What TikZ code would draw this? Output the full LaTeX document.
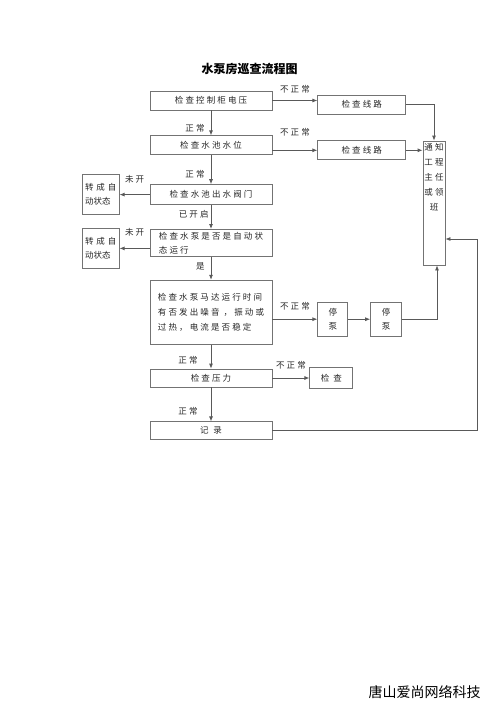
\documentclass[tikz,border=0pt]{standalone}
\usepackage{fontspec}
\setmainfont{Noto Sans CJK SC}
\newfontfamily\cjkw{Noto Sans CJK SC}[LetterSpace=25]
\usetikzlibrary{arrows.meta, positioning}

\begin{document}
\begin{tikzpicture}[
    x=1pt, y=1pt,
    every node/.style = {font=\cjkw\fontsize{8.5}{14}\selectfont, text=black!85},
    box/.style     = {rectangle, draw=black!55, line width=0.8pt,
                      inner sep=2pt, align=center},
    mainbox/.style = {box, minimum width=122pt},
    sidebox/.style = {box, minimum width=88pt, minimum height=19pt},
    autobox/.style = {box, align=left, minimum width=37pt, minimum height=40pt,
                      inner sep=1pt, font=\fontsize{8.5}{14}\selectfont},
    stopbox/.style = {box, minimum width=30pt, minimum height=34pt},
    lbl/.style     = {inner sep=1pt},
    arr/.style     = {-{Latex[length=5pt, width=4pt]}, line width=0.8pt, black!65}
  ]
  \useasboundingbox (0,0) rectangle (500,-707);

  % nodes
  \node[font=\bfseries\fontsize{12}{14}\selectfont, text=black] (title) at (249.5,-69) {水泵房巡查流程图};

  \node[mainbox, minimum height=19pt] (b1) at (211,-100.5) {检查控制柜电压};
  \node[mainbox, minimum height=19pt] (b2) [below=25pt of b1] {检查水池水位};
  \node[mainbox, minimum height=20pt] (b3) [below=29pt of b2] {检查水池出水阀门};
  \node[mainbox, minimum height=27pt, align=left] (b4) [below=24pt of b3] {检查水泵是否是自动状\\态运行};
  \node[mainbox, minimum height=64pt, align=left,
        font=\cjkw\fontsize{8.5}{15}\selectfont] (b5) [below=23pt of b4]
        {检查水泵马达运行时间\\有否发出噪音 ，振动或\\过热，电流是否稳定};
  \node[mainbox, minimum height=18pt] (b6) [below=24pt of b5] {检查压力};
  \node[mainbox, minimum height=18pt] (b7) [below=34pt of b6] {记\hspace{5pt}录};

  \node[sidebox] (l1) [right=45pt of b1, yshift=-4pt] {检查线路};
  \node[sidebox] (l2) [right=45pt of b2, yshift=-5pt] {检查线路};
  \node[box, minimum width=22pt, minimum height=124pt, inner sep=1pt] (n) at (434,-203)
        {\parbox[c][120pt][t]{20pt}{\centering\fontsize{8.5}{15}\selectfont 通知\\工程\\主任\\或领\\班}};

  \node[autobox] (z1) [left=30pt of b3] {转\,\,成\,\,自\\动状态};
  \node[autobox] (z2) [left=30pt of b4, yshift=-5.5pt] {转\,\,成\,\,自\\动状态};

  \node[stopbox] (s1) [right=45pt of b5, yshift=-7pt] {停\\泵};
  \node[stopbox, minimum width=31pt] (s2) [right=22pt of s1] {停\\泵};
  \node[box, minimum width=43pt, minimum height=21pt] (c) [right=37pt of b6] {检\hspace{4pt}查};

  \node[font=\fontsize{14}{16}\selectfont, text=black] (mark) at (424.5,-692) {唐山爱尚网络科技};

  % edges
  \draw[arr] (b1) -- (b2) node[lbl, pos=0.72, left=5pt] {正常};
  \draw[arr] (b1.east) -- (b1.east -| l1.west) node[lbl, midway, above=6pt] {不正常};
  \draw[arr] (l2.west -| b2.east) -- (l2.west) node[lbl, midway, above=13pt] {不正常};
  \draw[arr] (l1.east) -| (n.north);
  \draw[arr] (l2.east) -- (l2.east -| n.west);
  \draw[arr] (b2) -- (b3) node[lbl, pos=0.66, left=5pt] {正常};
  \draw[arr] (b3) -- (z1) node[lbl, midway, above=10pt] {未开};
  \draw[arr] (b3) -- (b4) node[lbl, pos=0.375, left=1pt] {已开启};
  \draw[arr] (z2.east -| b4.west) -- (z2.east) node[lbl, midway, above=11pt] {未开};
  \draw[arr] (b4) -- (b5) node[lbl, pos=0.4, left=5pt] {是};
  \draw[arr] (s1.west -| b5.east) -- (s1.west) node[lbl, midway, above=8pt] {不正常};
  \draw[arr] (s1) -- (s2);
  \draw[arr] (s2.east) -| ([xshift=3pt]n.south);
  \draw[arr] (b5) -- (b6) node[lbl, pos=0.67, left=12pt] {正常};
  \draw[arr] (b6.east |- c.west) -- (c.west) node[lbl, midway, above=7pt] {不正常};
  \draw[arr] (b6) -- (b7) node[lbl, pos=0.7, left=12pt] {正常};
  \draw[arr] (b7.east) -- ++(205,0) |- ([yshift=-36pt]n.east);

\end{tikzpicture}
\end{document}
